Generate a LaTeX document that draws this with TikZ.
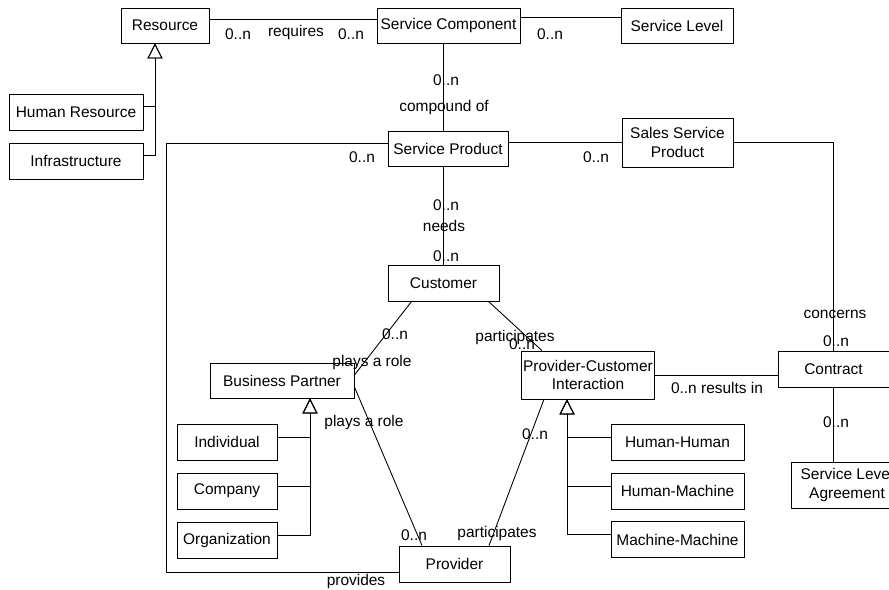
\documentclass[tikz,border=0pt]{standalone}
\usepackage{fontspec}
\setmainfont{Liberation Sans}
\usetikzlibrary{arrows.meta, positioning, calc}
\tikzstyle{entity} = [draw, rectangle, minimum height=7.2mm, align=center, inner sep=1pt, line width=0.5pt]
\tikzstyle{mult} = [inner sep=0pt]
\tikzstyle{link} = [line width=0.5pt]
\tikzstyle{isa} = [line width=0.5pt, -{Triangle[open, length=3mm, width=3mm]}]

\begin{document}
\begin{tikzpicture}[x=0.2mm, y=-0.2mm, font=\fontsize{8.8}{10.5}\selectfont]
    \useasboundingbox (0,0) rectangle (889,589);
    % entities
    \node (res) [entity, minimum width=17.6mm, minimum height=7mm] at (165,25.5) {Resource};
    \node (scomp) [entity, minimum width=28.6mm, minimum height=7mm] at (448.5,25.5) {Service Component};
    \node (slevel) [entity, minimum width=22.4mm, minimum height=7mm] at (677,25.5) {Service Level};
    \node (hres) [entity, minimum width=26.8mm] at (76,112) {Human Resource};
    \node (infra) [entity, minimum width=26.8mm] at (76,161) {Infrastructure};
    \node (sp) [entity, minimum width=24mm, minimum height=7mm] at (448,148.5) {Service Product};
    \node (ssp) [entity, minimum width=22.2mm, minimum height=9.8mm] at (677.5,142.5) {Sales Service\\Product};
    \node (cust) [entity, minimum width=22.2mm] at (443.5,283) {Customer};
    \node (bp) [entity, minimum width=28.8mm, minimum height=7mm] at (282,380.5) {Business Partner};
    \node (indiv) [entity, minimum width=20mm] at (227,442) {Individual};
    \node (company) [entity, minimum width=20mm] at (227,491) {Company};
    \node (orga) [entity, minimum width=20mm] at (227,540) {Organization};
    \node (prov) [entity, minimum width=22.2mm] at (454.5,564) {Provider};
    \node (pci) [entity, minimum width=26.4mm, minimum height=9.6mm] at (588,375) {Provider-Customer\\Interaction};
    \node (contr) [entity, minimum width=22.2mm] at (833.5,369) {Contract};
    \node (hh) [entity, minimum width=26.6mm] at (677.5,442) {Human-Human};
    \node (hm) [entity, minimum width=26.6mm] at (677.5,491) {Human-Machine};
    \node (mm) [entity, minimum width=26.6mm] at (677.5,539.5) {Machine-Machine};
    \node (sla) [entity, minimum width=22.2mm, minimum height=9.2mm] at (847,485) {Service Level\\Agreement};

    % associations
    \draw [link] ([yshift=1.3mm]res.east) -- ([yshift=1.3mm]scomp.west);
    \draw [link] ([yshift=1.6mm]scomp.east) -- ([yshift=1.6mm]slevel.west);
    \draw [link] (scomp.south -| cust.north) -- (sp.north -| cust.north);
    \draw [link] (sp.south -| cust.north) -- (cust.north);
    \draw [link] (sp.east |- ssp.west) -- (ssp.west);
    \draw [link] (ssp.east) -| (contr.north);
    \draw [link] (contr.south) -- (contr.south |- sla.north);
    \draw [link] (pci.east) -- (pci.east -| contr.west);
    \draw [link] ([yshift=1mm]sp.west) -- ++(-221,0) |- ([yshift=-1.6mm]prov.west);
    \draw [link] ([xshift=4.8mm]cust.south west) -- ([yshift=1.1mm]bp.east);
    \draw [link] ([yshift=-1.3mm]bp.east) -- ([xshift=-6.5mm]prov.north);
    \draw [link] ([xshift=-2.2mm]cust.south east) -- ([xshift=4.2mm]pci.north west);
    \draw [link] ([xshift=4.6mm]pci.south west) -- ([xshift=6.9mm]prov.north);

    % generalizations
    \draw [isa] ([yshift=1.2mm]hres.east) -| ([xshift=-2mm]res.south);
    \draw [isa] ([yshift=1.2mm]infra.east) -| ([xshift=-2mm]res.south);
    \draw [isa] ([yshift=1mm]indiv.east) -| ([xshift=5.6mm]bp.south);
    \draw [isa] ([yshift=1mm]company.east) -| ([xshift=5.6mm]bp.south);
    \draw [isa] ([yshift=1mm]orga.east) -| ([xshift=5.6mm]bp.south);
    \draw [isa] ([yshift=1mm]hh.west) -| ([xshift=-4.2mm]pci.south);
    \draw [isa] ([yshift=1mm]hm.west) -| ([xshift=-4.2mm]pci.south);
    \draw [isa] ([yshift=1mm]mm.west) -| ([xshift=-4.2mm]pci.south);

    % multiplicities and roles
    \node (m1) [mult] at (238,34) {0..n};
    \node (requires) [mult] at (296,32) {requires};
    \node (m2) [mult] at (351,34) {0..n};
    \node (m3) [mult] at (550,34) {0..n};
    \node (m4) [mult] at (446,80) {0..n};
    \node (compound) [mult] at (444,107) {compound of};
    \node (m5) [mult] at (362,157) {0..n};
    \node (m6) [mult] at (596,157) {0..n};
    \node (m7) [mult] at (446,205) {0..n};
    \node (needs) [mult] at (444,226) {needs};
    \node (m8) [mult] at (446,256) {0..n};
    \node (m9) [mult] at (395,334) {0..n};
    \node (role1) [mult] at (372,362) {plays a role};
    \node (role2) [mult] at (364,422) {plays a role};
    \node (m10) [mult] at (414,535) {0..n};
    \node (part1) [mult] at (515,337) {participates};
    \node (m11) [mult] at (522,344) {0..n};
    \node (m12) [mult] at (535,434) {0..n};
    \node (part2) [mult] at (497,533) {participates};
    \node (provides) [mult] at (356,581) {provides};
    \node (results) [mult] at (717,388) {0..n results in};
    \node (concerns) [mult] at (835,314) {concerns};
    \node (m13) [mult] at (836,341) {0..n};
    \node (m14) [mult] at (836,422) {0..n};
\end{tikzpicture}
\end{document}
